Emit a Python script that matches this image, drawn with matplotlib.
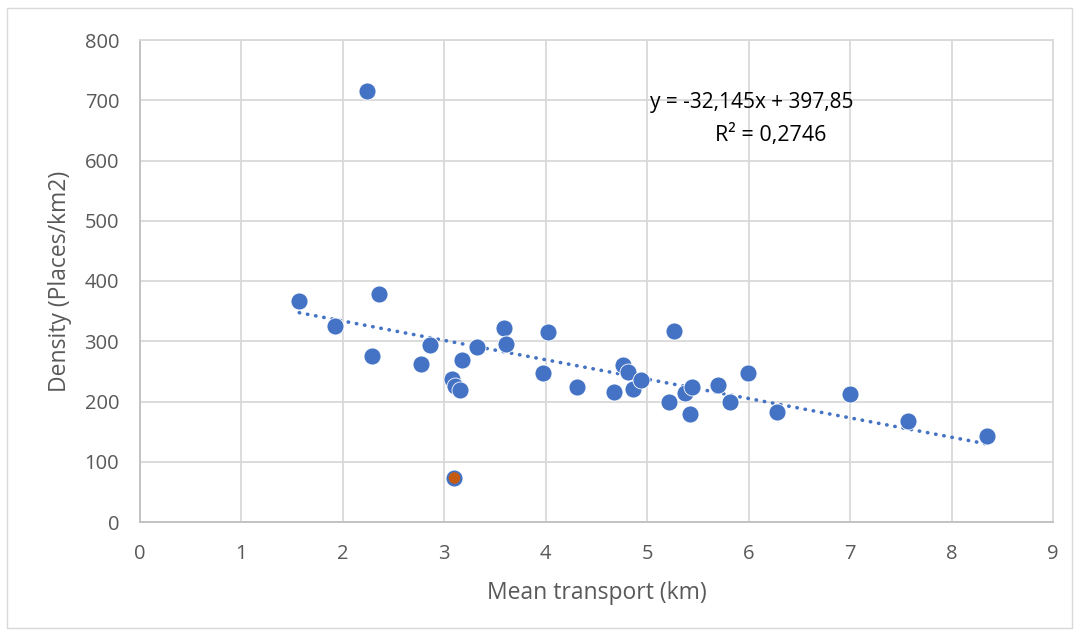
import matplotlib
matplotlib.use("Agg")
import matplotlib.pyplot as plt
from matplotlib.patches import Rectangle
import numpy as np

# Data
mean_transport = [1.57, 1.92, 2.24, 2.29, 2.36, 2.77, 2.86, 3.08, 3.11, 3.15, 3.17, 3.32,
                  3.59, 3.61, 3.97, 4.02, 4.31, 4.67, 4.76, 4.81, 4.86, 4.94, 5.21, 5.26,
                  5.37, 5.42, 5.44, 5.70, 5.82, 5.99, 6.28, 7.00, 7.57, 8.35, 3.10]
density = [367, 325, 716, 275, 378, 262, 293, 238, 226, 219, 269, 290,
           322, 295, 248, 315, 224, 215, 260, 249, 221, 235, 200, 317,
           214, 180, 224, 227, 199, 247, 183, 212, 168, 143, 73]
outlier_x = [3.10]
outlier_y = [73]
slope = -32.145
intercept = 397.85
equation_text = "y = -32,145x + 397,85"
r2_text = "R² = 0,2746"
x_ticks = list(range(0, 10))
y_ticks = list(range(0, 900, 100))

plt.rcParams['font.family'] = ['Open Sans', 'DejaVu Sans']

fig = plt.figure(figsize=(10.79, 6.34), dpi=100)
ax = fig.add_axes([140/1079, 1-522/634, (1053-140)/1079, (522-40)/634])

grid_c = '#d9d9d9'
axis_c = '#bfbfbf'
text_c = '#595959'
blue = '#4472C4'
orange = '#C55A11'

ax.set_xlim(0, 9)
ax.set_ylim(0, 800)
ax.set_xticks(x_ticks)
ax.set_yticks(y_ticks)
ax.grid(True, color=grid_c, linewidth=1.3)
ax.set_axisbelow(True)
for k, s in ax.spines.items():
    s.set_color(axis_c if k in ('left', 'bottom') else grid_c)
    s.set_linewidth(1.3)
ax.tick_params(length=0, labelsize=14.5, colors=text_c)
ax.tick_params(axis='y', pad=15)
ax.tick_params(axis='x', pad=16)

ax.scatter(mean_transport, density, s=150, color=blue, edgecolors='white', linewidths=0.6, zorder=3)
ax.scatter(outlier_x, outlier_y, s=70, color=orange, edgecolors='none', zorder=4)

xs = np.array([min(mean_transport), max(mean_transport)])
ax.plot(xs, slope*xs + intercept, linestyle=(0, (0.1, 2.2)), color=blue, linewidth=2.6,
        dash_capstyle='round', zorder=2)

ax.text(6.03, 697, equation_text, fontsize=15, color='black', ha='center', va='center')
ax.text(6.22, 642, r2_text, fontsize=15.5, color='black', ha='center', va='center')

ax.set_xlabel("Mean transport (km)", fontsize=16.5, color=text_c, va='center')
ax.set_ylabel("Density (Places/km2)", fontsize=16.5, color=text_c, va='center')
ax.xaxis.set_label_coords(0.5, (522-593)/482)
ax.yaxis.set_label_coords((60-140)/913, 0.5)

fig.patches.append(Rectangle((7/1079, 1-628/634), (1072-7)/1079, (628-8)/634,
                             transform=fig.transFigure, fill=False, edgecolor=grid_c, linewidth=1))

fig.savefig("out.png", dpi=100)
